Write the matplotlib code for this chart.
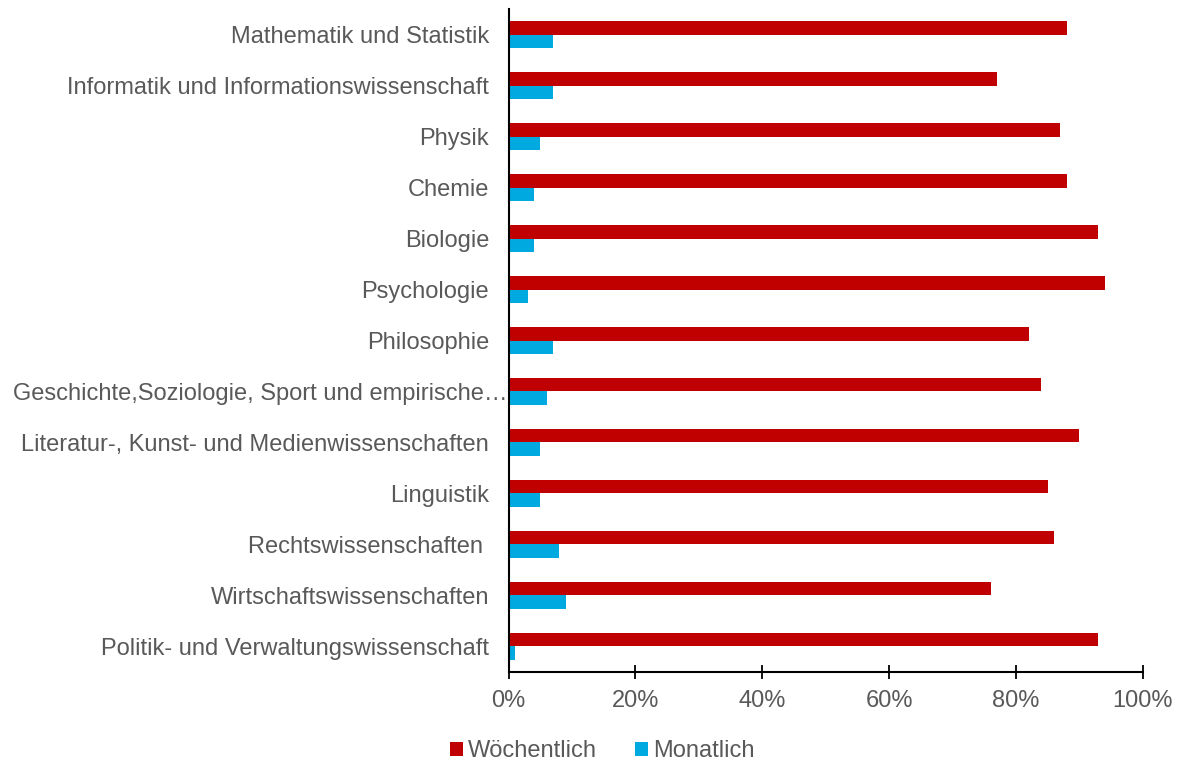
import matplotlib
matplotlib.use('Agg')
import matplotlib.pyplot as plt
import matplotlib.transforms as mtrans
import numpy as np
import matplotlib.ticker as mtick

categories = [
    'Mathematik und Statistik',
    'Informatik und Informationswissenschaft',
    'Physik',
    'Chemie',
    'Biologie',
    'Psychologie',
    'Philosophie',
    'Geschichte,Soziologie, Sport und empirische\u2026',
    'Literatur-, Kunst- und Medienwissenschaften',
    'Linguistik',
    'Rechtswissenschaften ',
    'Wirtschaftswissenschaften',
    'Politik- und Verwaltungswissenschaft',
]
woechentlich = [88, 77, 87, 88, 93, 94, 82, 84, 90, 85, 86, 76, 93]
monatlich = [7, 7, 5, 4, 4, 3, 7, 6, 5, 5, 8, 9, 1]

red = '#C00000'
blue = '#00A9E0'
grey = '#595959'

plt.rcParams['font.family'] = ['Liberation Sans', 'DejaVu Sans']

fig = plt.figure(figsize=(11.81, 7.65), dpi=100)
ax = fig.add_axes([0.4307, 0.1216, 0.9676 - 0.4307, 0.9882 - 0.1216])

y = np.arange(len(categories))
h = 0.265
ax.barh(y - h / 2, np.array(woechentlich) / 100, height=h, color=red, label='Wöchentlich')
ax.barh(y + h / 2, np.array(monatlich) / 100, height=h, color=blue, label='Monatlich')

ax.set_ylim(len(categories) - 0.5, -0.5)
ax.set_xlim(0, 1)
ax.set_yticks(y)
ax.set_yticklabels(categories, fontsize=17, color=grey)
ax.tick_params(axis='y', length=0, pad=14)
ax.set_xticks(np.arange(0, 1.01, 0.2))
ax.xaxis.set_major_formatter(mtick.PercentFormatter(1.0, decimals=0))
ax.tick_params(axis='x', direction='inout', length=10, width=1.3, labelsize=17,
               labelcolor=grey, pad=8)

# the long truncated label runs up to the axis, as in the source
long_lbl = ax.get_yticklabels()[7]
long_lbl.set_transform(long_lbl.get_transform() +
                       mtrans.ScaledTranslation(13 / 72, 0, fig.dpi_scale_trans))

for side in ['top', 'right']:
    ax.spines[side].set_visible(False)
for side in ['left', 'bottom']:
    ax.spines[side].set_linewidth(1.5)
    ax.spines[side].set_color('black')

leg = fig.legend(loc='center', bbox_to_anchor=(0.51, 0.018), ncol=2, frameon=False,
                 fontsize=17, handlelength=0.55, handleheight=0.55, handletextpad=0.2,
                 columnspacing=1.6)
for t in leg.get_texts():
    t.set_color(grey)

fig.savefig('out.png', dpi=100)
